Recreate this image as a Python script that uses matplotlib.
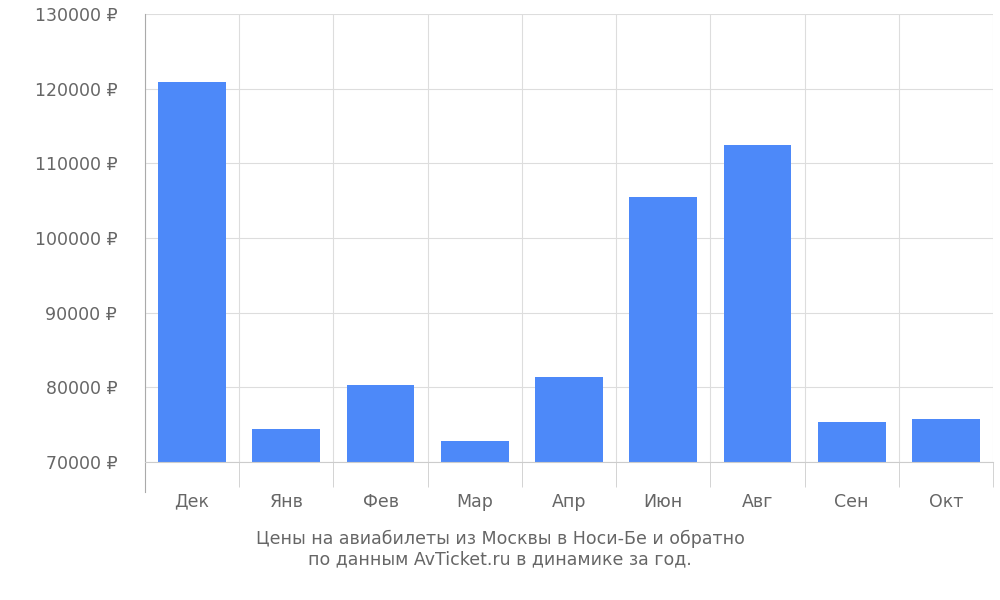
import matplotlib
matplotlib.use("Agg")
import matplotlib.pyplot as plt
import numpy as np

categories = ["Дек", "Янв", "Фев", "Мар", "Апр", "Июн", "Авг", "Сен", "Окт"]
values = [120900, 74400, 80300, 72800, 81400, 105500, 112500, 75400, 75700]
yticks = [70000, 80000, 90000, 100000, 110000, 120000, 130000]

fig = plt.figure(figsize=(10, 6), dpi=100)
ax = fig.add_axes([0.145, 0.23, 0.848, 0.747])
x = np.arange(len(categories))
ax.bar(x, values, width=0.72, color="#4d89f9", zorder=2)
ax.set_xlim(-0.5, len(categories) - 0.5)
ax.set_ylim(70000, 130000)
ax.set_yticks(yticks)
ax.set_yticklabels([f"{v} ₽" for v in yticks])
ax.set_xticks(x)
ax.set_xticklabels(categories)
ax.set_xticks(np.arange(-0.5, len(categories)), minor=True)
ax.tick_params(axis="x", which="major", length=0, pad=22, labelsize=12.5, colors="#666666")
ax.tick_params(axis="x", which="minor", length=18, color="#cccccc")
ax.tick_params(axis="y", length=0, pad=20, labelsize=12.5, colors="#666666")
ax.grid(True, which="minor", axis="x", color="#dddddd", zorder=0)
ax.grid(True, which="major", axis="y", color="#dddddd", zorder=0)
for s in ["top", "right"]:
    ax.spines[s].set_visible(False)
ax.spines["bottom"].set_color("#cccccc")
ax.spines["left"].set_color("#aaaaaa")
ax.spines["left"].set_bounds(66000, 130000)
ax.spines["left"].set_bounds
fig.text(0.5, 0.085, "Цены на авиабилеты из Москвы в Носи-Бе и обратно\nпо данным AvTicket.ru в динамике за год.",
         ha="center", va="center", fontsize=12.5, color="#666666", linespacing=1.2)
fig.savefig("out.png")
